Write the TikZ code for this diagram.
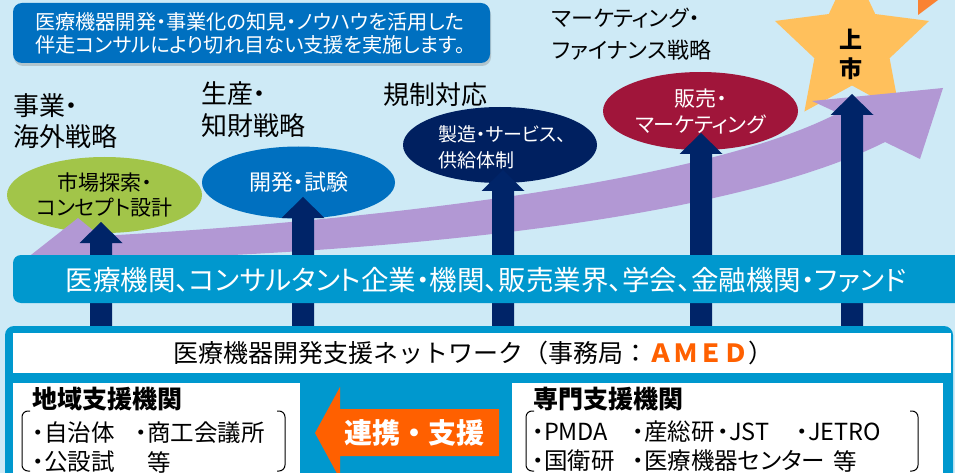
\documentclass[tikz,border=0pt]{standalone}
\usepackage{fontspec}
\setmainfont{Noto Sans CJK JP}[RawFeature=+palt]
\newfontfamily\fw{Noto Sans CJK JP}
\usetikzlibrary{shapes.geometric,shadows}
\definecolor{bgc}{RGB}{206,234,246}
\definecolor{callblue}{RGB}{0,112,192}
\definecolor{barblue}{RGB}{0,152,206}
\definecolor{purp}{RGB}{178,152,212}
\definecolor{navyarr}{RGB}{0,36,104}
\definecolor{navyell}{RGB}{0,32,96}
\definecolor{redell}{RGB}{160,21,58}
\definecolor{greenell}{RGB}{162,197,73}
\definecolor{gold}{RGB}{255,192,92}
\definecolor{orng}{RGB}{255,96,0}
\definecolor{orng2}{RGB}{250,130,50}
\newcommand\fsz[2]{\fontsize{#1}{#2}\selectfont}
\newcommand\ndot{\makebox[11pt][c]{・}}
\begin{document}
\begin{tikzpicture}[x=1pt,y=-1pt,
  every node/.style={inner sep=0pt,outer sep=0pt},
  heading/.style={anchor=west,align=left,text=black},
  ell/.style={ellipse,inner sep=0pt,minimum width=195pt,minimum height=76pt,align=center},
  item/.style={anchor=west,font=\fsz{23.5}{28},text=black},
  brk/.style={draw=black,line width=1pt,rounded corners=6pt}]
\clip (0,0) rectangle (955,473);
\fill[bgc] (0,0) rectangle (955,473);
% top callout
\fill[callblue,rounded corners=9pt,drop shadow={shadow xshift=1pt,shadow yshift=-3pt,opacity=0.35}] (13,3) rectangle (490,63);
\node[anchor=west,align=left,text=white,font=\fsz{20.2}{23}] (call) at (35,33.5)
  {医療機器開発・事業化の知見・ノウハウを活用した\\伴走コンサルにより切れ目ない支援を実施します。};
% headings
\node[heading,font=\fsz{26}{31}] (h1) at (13,121.5) {事業・\\海外戦略};
\node[heading,font=\fsz{26}{32}] (h2) at (201,110) {生産・\\知財戦略};
\node[heading,font=\fsz{26}{31}] (h3) at (383,95) {規制対応};
\node[heading,font=\fsz{22}{32}] (h4) at (552,34) {マーケティング・\\ファイナンス戦略};
% ellipses
\node[ell,fill=greenell,text=black,font=\fsz{21}{25}] (e1) at (104.5,195) {市場探索・\\コンセプト設計};
\node[ell,fill=callblue,text=white,font=\fsz{22}{26},minimum width=193pt,minimum height=72pt] (e2) at (298.5,182.5) {開発・試験};
\node[ell,fill=navyell,minimum width=194pt] (e3) at (500,145) {};
\node[anchor=west,align=left,text=white,font=\fsz{19}{26}] (e3t) at (438,147) {製造・サービス、\\供給体制};
\node[ell,fill=redell,text=white,font=\fsz{21}{26},minimum height=78pt] (e4) at (700.5,111) {販売・\\マーケティング};
% star
\node[star,star points=5,star point ratio=2.05,minimum size=162pt,fill=gold] (star) at (852,46) {};
% purple arrow
\fill[purp] (22,262) -- (78,218) -- (100,236)
  .. controls (350,222) and (700,185) .. (838,113)
  -- (812,101) -- (943,88) -- (920,159) -- (885,142)
  .. controls (750,210) and (450,255) .. (22,262) -- cycle;
\node[text=black,font=\bfseries\fsz{23}{29},align=center] (jo) at (851,54) {上\\市};
% navy arrows
\foreach \x/\t in {101/222,303/197,503/170,701/133,852/94}
  \fill[navyarr] (\x-11,335) -- (\x-11,\t+21) -- (\x-21.5,\t+21) -- (\x,\t) -- (\x+21.5,\t+21) -- (\x+11,\t+21) -- (\x+11,335) -- cycle;
% bar
\fill[barblue,rounded corners=8pt] (13,255) rectangle (965,303);
\node[text=white,font=\fsz{27.5}{30}] (bar) at (486,280.5) {医療機関、コンサルタント企業・機関、販売業界、学会、金融機関・ファンド};
% bottom box
\fill[barblue,rounded corners=9pt] (5,326) rectangle (953,500);
\fill[white] (13,333) rectangle (951,373);
\node[font=\fw\fsz{25}{30},text=black] (net) at (473.5,353) {医療機器開発支援ネットワーク（事務局：\textcolor{orng}{\bfseries ＡＭＥＤ}）};
\fill[white] (13,383) rectangle (300,480);
\fill[white] (512,383) rectangle (943,480);
\node[anchor=west,font=\bfseries\fsz{25}{30}] (lt) at (32,399) {地域支援機関};
\node[item] (l1a) at (33,433) {\ndot 自治体};
\node[item] (l1b) at (136,433) {\ndot 商工会議所};
\node[item] (l2a) at (33,462) {\ndot 公設試};
\node[item] (l2b) at (147,462) {等};
\draw[brk] (30,411) -- (22,411) -- (22,471) -- (30,471);
\draw[brk] (277,411) -- (285,411) -- (285,471) -- (277,471);
\node[anchor=west,font=\bfseries\fsz{25}{30}] (rt) at (533,399) {専門支援機関};
\node[item] (r1a) at (533,432) {\ndot PMDA};
\node[item] (r1b) at (633,432) {\ndot 産総研};
\node[item] (r1c) at (718,432) {\ndot JST};
\node[item] (r1d) at (797,432) {\ndot JETRO};
\node[item] (r2a) at (533,461) {\ndot 国衛研};
\node[item] (r2b) at (633,461) {\ndot 医療機器センター};
\node[item] (r2c) at (833,461) {等};
\draw[brk] (534,411) -- (526,411) -- (526,471) -- (534,471);
\draw[brk] (910,411) -- (918,411) -- (918,471) -- (910,471);
% orange arrow
\fill[orng] (315,433) -- (340,387) -- (340,409) -- (499,409) -- (499,456) -- (340,456) -- (340,479) -- cycle;
\node[text=white,font=\fw\bfseries\fsz{28}{30}] (renkei) at (414,433) {連携・支援};
% top-right orange fragment
\fill[orng2] (918,0) -- (938,0) -- (918,15) -- cycle;
\end{tikzpicture}
\end{document}
